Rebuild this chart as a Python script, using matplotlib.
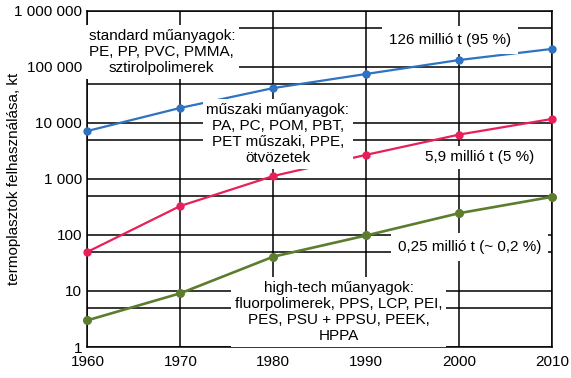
import matplotlib
matplotlib.use('Agg')
import matplotlib.pyplot as plt

plt.rcParams['font.family'] = ['Liberation Sans', 'DejaVu Sans']

years = [1960, 1970, 1980, 1990, 2000, 2010]
standard = [7200, 18600, 42000, 75000, 133000, 210000]
muszaki = [50, 330, 1130, 2700, 6200, 11800]
hightech = [3.0, 9.1, 41, 98, 245, 480]

y_ticks = [1, 10, 100, 1000, 10000, 100000, 1000000]
y_ticklabels = ['1', '10', '100', '1 000', '10 000', '100 000', '1 000 000']
half_lines = [5, 50, 500, 5000, 50000, 500000]

fig = plt.figure(figsize=(5.71, 3.78), dpi=100)
ax = fig.add_axes([0.1532, 0.082, 0.8135, 0.889])
ax.set_yscale('log')
ax.set_xlim(1960, 2010)
ax.set_ylim(1, 1e6)

# grid, drawn by hand so the text boxes can cover it
for y in y_ticks + half_lines:
    ax.axhline(y, color='black', lw=1.1, zorder=1)
for x in years:
    ax.axvline(x, color='black', lw=1.1, zorder=1)
for s in ax.spines.values():
    s.set_linewidth(1.1)

ax.plot(years, standard, color='#2f72c2', lw=1.6, marker='o', ms=5, zorder=3, clip_on=False)
ax.plot(years, muszaki, color='#e8205a', lw=1.6, marker='o', ms=5, zorder=3, clip_on=False)
ax.plot(years, hightech, color='#5d7d2e', lw=1.9, marker='o', ms=5.5, zorder=3, clip_on=False)

ax.set_xticks(years)
ax.set_xticklabels([str(y) for y in years])
ax.set_yticks(y_ticks)
ax.set_yticklabels(y_ticklabels)
ax.minorticks_off()
fs = 11
ax.tick_params(axis='both', length=0, labelsize=fs)
ax.tick_params(axis='y', pad=4)
ax.tick_params(axis='x', pad=6)

ax.set_ylabel('termoplasztok felhasználása, kt', fontsize=fs)
ax.yaxis.set_label_coords(-0.143, 0.5)

box = dict(facecolor='white', edgecolor='none', boxstyle='square,pad=0.25')
ax.text(0.160, 0.878, 'standard műanyagok:\nPE, PP, PVC, PMMA,\nsztirolpolimerek',
        transform=ax.transAxes, ha='center', va='center', fontsize=fs, bbox=box, zorder=5)
ax.text(0.780, 0.914, '126 millió t (95 %)', transform=ax.transAxes,
        ha='center', va='center', fontsize=fs, bbox=dict(box, boxstyle='square,pad=0.45'), zorder=5)
ax.text(0.410, 0.634, 'műszaki műanyagok:\nPA, PC, POM, PBT,\nPET műszaki, PPE,\nötvözetek',
        transform=ax.transAxes, ha='center', va='center', fontsize=fs, bbox=box, zorder=5)
ax.text(0.845, 0.565, '5,9 millió t (5 %)', transform=ax.transAxes,
        ha='center', va='center', fontsize=fs, bbox=dict(box, boxstyle='square,pad=0.3'), zorder=5)
ax.text(0.823, 0.298, '0,25 millió t (~ 0,2 %)', transform=ax.transAxes,
        ha='center', va='center', fontsize=fs, bbox=dict(box, boxstyle='square,pad=0.45'), zorder=5)
ax.text(0.541, 0.104, 'high-tech műanyagok:\nfluorpolimerek, PPS, LCP, PEI,\nPES, PSU + PPSU, PEEK,\nHPPA',
        transform=ax.transAxes, ha='center', va='center', fontsize=fs, bbox=box, zorder=5)

fig.savefig('out.png', dpi=100)
